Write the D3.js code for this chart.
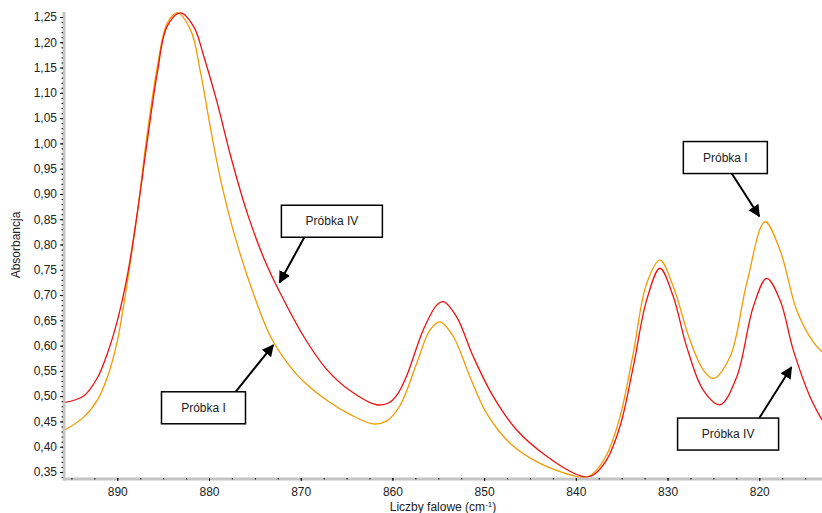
<!DOCTYPE html>
<html>
<head>
<meta charset="utf-8">
<script src="https://cdn.jsdelivr.net/npm/d3@7/dist/d3.min.js"></script>
<style>
body { margin: 0; background: #fff; }
text { font-family: "Liberation Sans", Arial, sans-serif; font-size: 12px; fill: #222; }
</style>
</head>
<body>
<script>
// Próbka IV (red)
let wnIV  = [895.81, 893.63, 892.18, 891.09, 890.00, 888.91, 887.82, 886.73, 885.64, 884.55, 883.09,
             881.64, 880.55, 879.10, 877.64, 875.83, 874.00, 872.18, 869.64, 867.17, 864.63, 861.72,
             860.27, 859.40, 858.45, 856.64, 855.17, 854.45, 853.00, 851.18, 849.00, 846.45, 843.18, 839.91,
             838.82, 838.10, 836.64, 835.19, 833.74, 832.28, 830.83, 829.38, 827.92, 826.11, 824.28,
             822.46, 820.65, 819.19, 817.74, 816.29, 814.47, 813.16];
let absIV = [0.487, 0.501, 0.536, 0.584, 0.649, 0.738, 0.862, 1.005, 1.139, 1.232, 1.258,
             1.230, 1.171, 1.080, 0.975, 0.862, 0.772, 0.702, 0.617, 0.553, 0.511, 0.483,
             0.488, 0.505, 0.540, 0.631, 0.680, 0.687, 0.657, 0.578, 0.499, 0.433, 0.381, 0.345,
             0.340, 0.344, 0.374, 0.440, 0.558, 0.690, 0.753, 0.697, 0.598, 0.512, 0.483,
             0.538, 0.677, 0.733, 0.690, 0.591, 0.499, 0.453];

// Próbka I (orange)
let wnI   = [895.81, 893.63, 892.18, 891.09, 890.00, 888.91, 887.82, 886.73, 885.64, 884.55, 883.46,
             882.00, 880.91, 879.82, 878.73, 877.28, 875.45, 873.27, 871.09, 869.64, 867.17, 864.63,
             862.09, 860.63, 859.18, 857.35, 855.90, 854.81, 853.36, 851.54, 849.72, 847.18, 843.91,
             839.91, 838.82, 838.10, 836.64, 835.19, 833.74, 832.28, 830.83, 829.38, 827.56, 826.11,
             825.02, 823.19, 821.37, 819.38, 817.74, 815.92, 814.11, 813.16];
let absI  = [0.432, 0.459, 0.492, 0.537, 0.609, 0.725, 0.862, 1.020, 1.151, 1.238, 1.258,
             1.224, 1.139, 1.028, 0.928, 0.823, 0.718, 0.617, 0.557, 0.528, 0.492, 0.464,
             0.445, 0.451, 0.481, 0.565, 0.631, 0.647, 0.618, 0.538, 0.466, 0.407, 0.367,
             0.341, 0.340, 0.347, 0.384, 0.459, 0.585, 0.723, 0.769, 0.717, 0.611, 0.552,
             0.535, 0.578, 0.723, 0.845, 0.789, 0.670, 0.607, 0.588];

let xTicks = [890, 880, 870, 860, 850, 840, 830, 820];
let yTicks = [0.35, 0.40, 0.45, 0.50, 0.55, 0.60, 0.65, 0.70, 0.75, 0.80, 0.85, 0.90,
              0.95, 1.00, 1.05, 1.10, 1.15, 1.20, 1.25];

// labels: box centre (bx, by), arrow start x (sx), arrow tip (tx, ty), all in data units
let notes = [
  {label: "Próbka IV", bx: 866.6, by: 0.846, sx: 869.6, tx: 872.3, ty: 0.725},
  {label: "Próbka I",  bx: 880.6, by: 0.477, sx: 877.1, tx: 873.0, ty: 0.601},
  {label: "Próbka I",  bx: 823.7, by: 0.972, sx: 823.0, tx: 820.0, ty: 0.856},
  {label: "Próbka IV", bx: 823.4, by: 0.425, sx: 820.0, tx: 816.5, ty: 0.557}
];

let width = 822, height = 513;
let margin = {left: 64, right: 0, top: 12, bottom: 35};

let x = d3.scaleLinear().domain([895.81, 813.16]).range([margin.left, width - margin.right]);
let y = d3.scaleLinear().domain([0.3381, 1.2599]).range([height - margin.bottom, margin.top]);

let svg = d3.select("body").append("svg").attr("width", width).attr("height", height);

svg.append("defs").append("clipPath").attr("id", "clip")
  .append("rect")
    .attr("x", margin.left).attr("y", margin.top - 2)
    .attr("width", width - margin.left - margin.right)
    .attr("height", height - margin.top - margin.bottom + 2);

let marker = svg.select("defs").append("marker")
    .attr("id", "arrow")
    .attr("viewBox", "0 0 10 10")
    .attr("refX", 9).attr("refY", 5)
    .attr("markerWidth", 6).attr("markerHeight", 6)
    .attr("markerUnits", "strokeWidth")
    .attr("orient", "auto");
marker.append("path").attr("d", "M0,0 L10,5 L0,10 Z").attr("fill", "#000");

// curves
let line = d3.line()
    .x(d => x(d[0]))
    .y(d => y(d[1]))
    .curve(d3.curveCatmullRom.alpha(0.5));

let series = [
  {name: "Próbka I",  wn: wnI,  ab: absI,  color: "#f39a00"},
  {name: "Próbka IV", wn: wnIV, ab: absIV, color: "#ee1111"}
];

svg.append("g").attr("clip-path", "url(#clip)")
  .selectAll("path")
  .data(series)
  .enter().append("path")
    .attr("fill", "none")
    .attr("stroke", d => d.color)
    .attr("stroke-width", 1.3)
    .attr("d", d => line(d.wn.map((w, i) => [w, d.ab[i]])));

// axes
let fmt = v => d3.format(".2f")(v).replace(".", ",");

svg.append("line")
    .attr("x1", margin.left).attr("x2", width)
    .attr("y1", y.range()[0] + 1).attr("y2", y.range()[0] + 1)
    .attr("stroke", "#c4c4c4").attr("stroke-width", 3);
svg.append("line")
    .attr("x1", margin.left).attr("x2", margin.left)
    .attr("y1", margin.top).attr("y2", y.range()[0] + 2.5)
    .attr("stroke", "#c4c4c4").attr("stroke-width", 3);

let yAxis = svg.append("g")
    .attr("transform", "translate(" + (margin.left - 1) + ",0)")
    .call(d3.axisLeft(y).tickValues(yTicks).tickFormat(fmt).tickSize(3).tickPadding(3));
yAxis.select(".domain").remove();
yAxis.selectAll("text").style("font-size", "12px").attr("fill", "#222");

let yMinor = svg.append("g")
    .attr("transform", "translate(" + (margin.left - 1) + ",0)")
    .call(d3.axisLeft(y).tickValues(d3.range(34, 126).map(v => v / 100)).tickFormat("").tickSize(1.5));
yMinor.select(".domain").remove();

let xAxis = svg.append("g")
    .attr("transform", "translate(0," + (y.range()[0]) + ")")
    .call(d3.axisBottom(x).tickValues(xTicks).tickFormat(d3.format("d")).tickSize(3).tickPadding(6));
xAxis.select(".domain").remove();
xAxis.selectAll("text").style("font-size", "12px").attr("fill", "#222");

let xMinor = svg.append("g")
    .attr("transform", "translate(0," + (y.range()[0]) + ")")
    .call(d3.axisBottom(x).tickValues(d3.range(895, 813, -2.5)).tickFormat("").tickSize(1.5));
xMinor.select(".domain").remove();

// axis titles
svg.append("text")
    .attr("transform", "translate(20," + ((margin.top + y.range()[0]) / 2) + ") rotate(-90)")
    .attr("text-anchor", "middle")
    .text("Absorbancja");

let xt = svg.append("text")
    .attr("x", (margin.left + width) / 2)
    .attr("y", 511)
    .attr("text-anchor", "middle");
xt.append("tspan").text("Liczby falowe (cm");
xt.append("tspan").attr("dy", -4).style("font-size", "8px").text("-1");
xt.append("tspan").attr("dy", 4).text(")");

// annotations
let boxW = {"Próbka IV": 101, "Próbka I": 84};
let boxH = 32;

let note = svg.append("g").selectAll("g")
  .data(notes)
  .enter().append("g");

note.append("line")
    .attr("x1", d => x(d.sx))
    .attr("y1", d => y(d.ty) < y(d.by) ? y(d.by) - boxH / 2 : y(d.by) + boxH / 2)
    .attr("x2", d => x(d.tx))
    .attr("y2", d => y(d.ty))
    .attr("stroke", "#000")
    .attr("stroke-width", 2)
    .attr("marker-end", "url(#arrow)");

note.append("rect")
    .attr("x", d => x(d.bx) - boxW[d.label] / 2)
    .attr("y", d => y(d.by) - boxH / 2)
    .attr("width", d => boxW[d.label])
    .attr("height", boxH)
    .attr("fill", "#fff")
    .attr("stroke", "#000")
    .attr("stroke-width", 1.5);

note.append("text")
    .attr("x", d => x(d.bx))
    .attr("y", d => y(d.by))
    .attr("text-anchor", "middle")
    .attr("dominant-baseline", "central")
    .text(d => d.label);
</script>
</body>
</html>
